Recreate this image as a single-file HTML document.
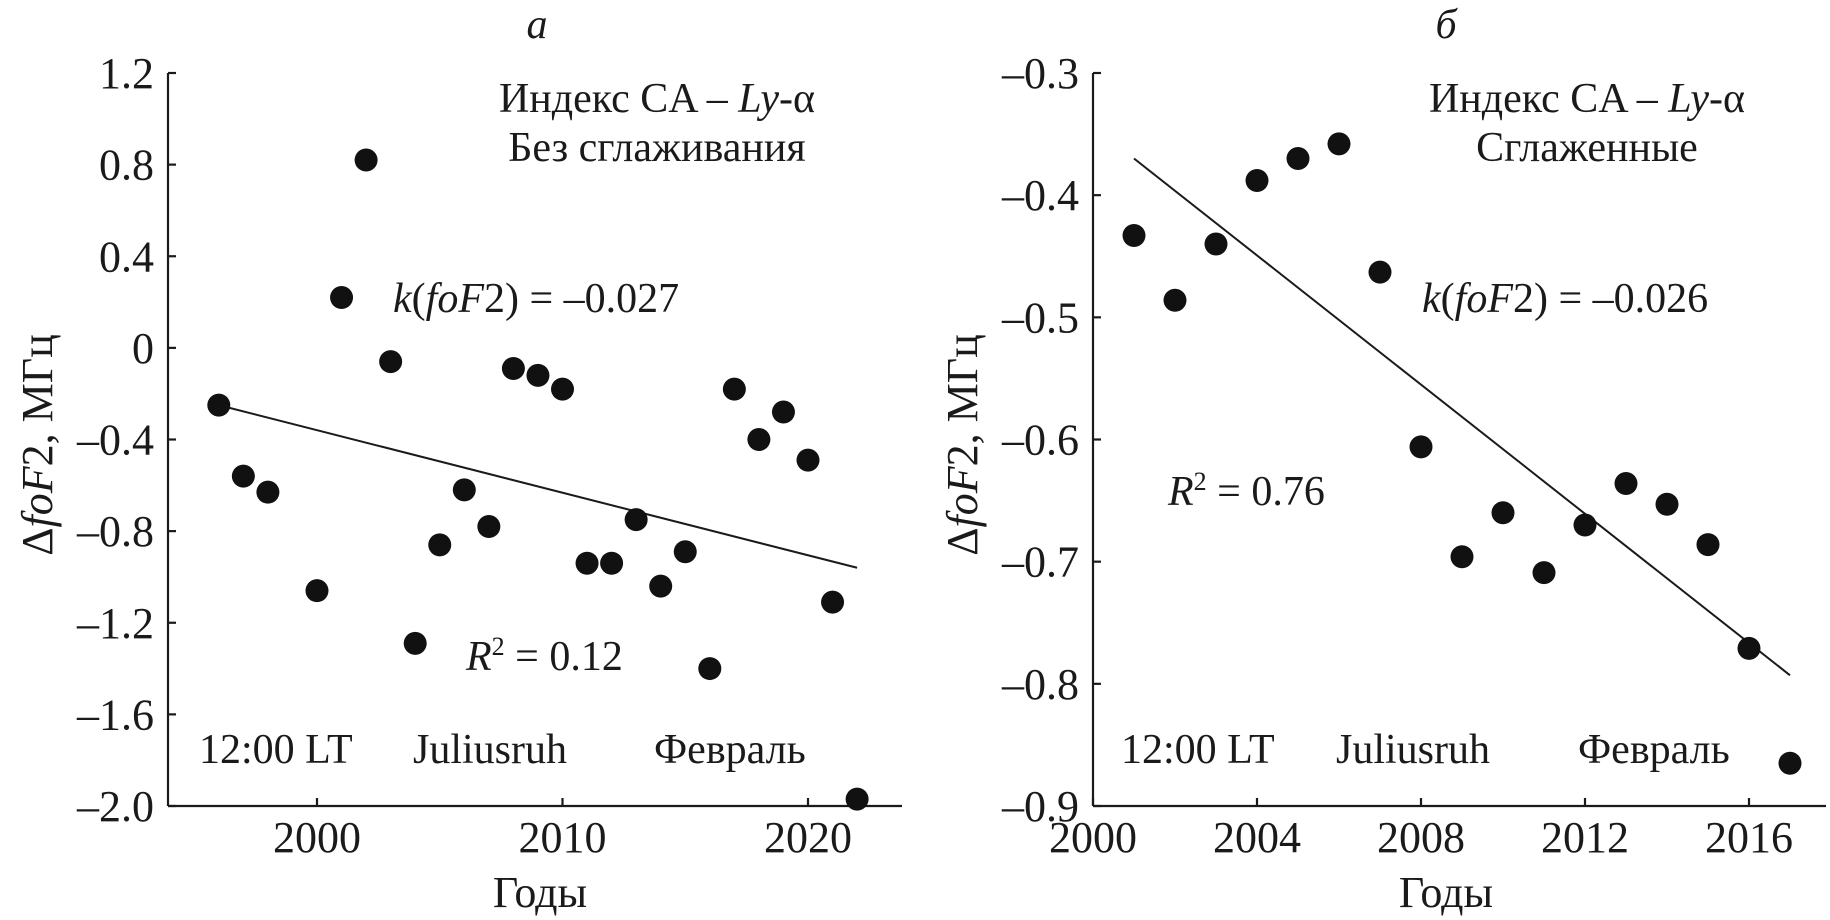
<!DOCTYPE html>
<html><head><meta charset="utf-8"><style>
html,body{margin:0;padding:0;background:#fff;}
svg{display:block;font-family:"Liberation Serif","DejaVu Serif",serif;fill:#1a1a1a;}
</style></head><body>
<svg id="svg" width="1830" height="920" viewBox="0 0 1830 920" xmlns="http://www.w3.org/2000/svg">
<g id="pa"></g>
<g id="pb"></g>
</svg>
<script>
const yearsA = [1996,1997,1998,2000,2001,2002,2003,2004,2005,2006,2007,2008,2009,2010,2011,2012,2013,2014,2015,2016,2017,2018,2019,2020,2021,2022];
const valuesA = [-0.25,-0.56,-0.63,-1.06,0.22,0.82,-0.06,-1.29,-0.86,-0.62,-0.78,-0.09,-0.12,-0.18,-0.94,-0.94,-0.75,-1.04,-0.89,-1.40,-0.18,-0.40,-0.28,-0.49,-1.11,-1.97];
const trendA = [[1996,-0.25],[2022,-0.96]];
const xTicksA = [2000,2010,2020];
const yTicksA = [1.2,0.8,0.4,0,-0.4,-0.8,-1.2,-1.6,-2.0];
const yLabelsA = ["1.2","0.8","0.4","0","\u20130.4","\u20130.8","\u20131.2","\u20131.6","\u20132.0"];

const yearsB = [2001,2002,2003,2004,2005,2006,2007,2008,2009,2010,2011,2012,2013,2014,2015,2016,2017];
const valuesB = [-0.433,-0.486,-0.44,-0.388,-0.37,-0.358,-0.463,-0.606,-0.696,-0.66,-0.709,-0.67,-0.636,-0.653,-0.686,-0.771,-0.865];
const trendB = [[2001,-0.37],[2017,-0.793]];
const xTicksB = [2000,2004,2008,2012,2016];
const yTicksB = [-0.3,-0.4,-0.5,-0.6,-0.7,-0.8,-0.9];
const yLabelsB = ["\u20130.3","\u20130.4","\u20130.5","\u20130.6","\u20130.7","\u20130.8","\u20130.9"];

const NS="http://www.w3.org/2000/svg";
function mk(parent,tag,attrs,text){const e=document.createElementNS(NS,tag);for(const k in attrs)e.setAttribute(k,attrs[k]);if(text!==undefined)e.innerHTML=text;parent.appendChild(e);return e;}

function panel(g,cfg){
  const x=v=>cfg.x0+(v-cfg.xMin)*(cfg.x1-cfg.x0)/(cfg.xMax-cfg.xMin);
  const y=v=>cfg.yTop+(cfg.yMaxV-v)*(cfg.yBot-cfg.yTop)/(cfg.yMaxV-cfg.yMinV);
  let e=mk(g,'line',{x1:cfg.x0,y1:cfg.yTop,x2:cfg.x0,y2:cfg.yBot,stroke:'#1a1a1a','stroke-width':2.2});
  
  
  e=mk(g,'line',{x1:cfg.x0,y1:cfg.yBot,x2:cfg.xEnd,y2:cfg.yBot,stroke:'#1a1a1a','stroke-width':2.2});
  
  
  cfg.yTicks.forEach((v,i)=>{
    const t=mk(g,'line',{x1:cfg.x0,y1:y(v),x2:cfg.x0+8,y2:y(v),stroke:'#1a1a1a','stroke-width':2.2});
    
    
    const l=mk(g,'text',{x:cfg.x0-14,y:y(v)+15,'text-anchor':'end','font-size':44},cfg.yLabels[i]);
    
    
  });
  cfg.xTicks.forEach(v=>{
    const t=mk(g,'line',{x1:x(v),y1:cfg.yBot,x2:x(v),y2:cfg.yBot-8,stroke:'#1a1a1a','stroke-width':2.2});
    
    
    const l=mk(g,'text',{x:x(v),y:852,'text-anchor':'middle','font-size':44},String(v));
    
    
  });
  e=mk(g,'line',{x1:x(cfg.trend[0][0]),y1:y(cfg.trend[0][1]),x2:x(cfg.trend[1][0]),y2:y(cfg.trend[1][1]),stroke:'#1a1a1a','stroke-width':2});
  
  
  cfg.years.forEach((yr,i)=>{
    const c=mk(g,'circle',{cx:x(yr),cy:y(cfg.values[i]),r:11.5,fill:'#111'});
    
    
  });
}

const ga=document.getElementById('pa'), gb=document.getElementById('pb');
panel(ga,{x0:168,x1:808,xMin:2020-(808-168)/24.55,xMax:2020,xEnd:902,yTop:73,yBot:806,yMaxV:1.2,yMinV:-2.0,
  yTicks:yTicksA,yLabels:yLabelsA,xTicks:xTicksA,years:yearsA,values:valuesA,trend:trendA});
panel(gb,{x0:1093,x1:1749,xMin:2000,xMax:2016,xEnd:1826,yTop:73,yBot:806,yMaxV:-0.3,yMinV:-0.9,
  yTicks:yTicksB,yLabels:yLabelsB,xTicks:xTicksB,years:yearsB,values:valuesB,trend:trendB});

function label(g,name,attrs,html){const t=mk(g,'text',Object.assign({'font-size':42},attrs),html);return t;}
label(ga,'panel-letter-a',{x:537,y:38,'text-anchor':'middle','font-style':'italic'},'а');
label(ga,'title-line-1',{x:657,y:112,'text-anchor':'middle'},'Индекс CA – <tspan font-style="italic">Ly</tspan>-α');
label(ga,'title-line-2',{x:657,y:161,'text-anchor':'middle'},'Без сглаживания');
label(ga,'slope-label',{x:393,y:312},'<tspan font-style="italic">k</tspan>(<tspan font-style="italic">foF</tspan>2) = –0.027');
label(ga,'r2-label',{x:466,y:670},'<tspan font-style="italic">R</tspan><tspan font-size="26" dy="-15">2</tspan><tspan dy="15"> = 0.12</tspan>');
label(ga,'time-label',{x:199,y:763},'12:00 LT');
label(ga,'station-label',{x:413,y:763},'Juliusruh');
label(ga,'month-label',{x:654,y:763},'Февраль');
label(ga,'x-axis-title',{x:540,y:907,'text-anchor':'middle','font-size':44},'Годы');
label(ga,'y-axis-title',{x:0,y:0,'text-anchor':'middle','font-size':44,transform:'translate(52,445) rotate(-90)'},'Δ<tspan font-style="italic">foF</tspan>2, МГц');

label(gb,'panel-letter-b',{x:1446,y:38,'text-anchor':'middle','font-style':'italic'},'б');
label(gb,'title-line-1',{x:1587,y:112,'text-anchor':'middle'},'Индекс CA – <tspan font-style="italic">Ly</tspan>-α');
label(gb,'title-line-2',{x:1587,y:161,'text-anchor':'middle'},'Сглаженные');
label(gb,'slope-label',{x:1422,y:312},'<tspan font-style="italic">k</tspan>(<tspan font-style="italic">foF</tspan>2) = –0.026');
label(gb,'r2-label',{x:1168,y:505},'<tspan font-style="italic">R</tspan><tspan font-size="26" dy="-15">2</tspan><tspan dy="15"> = 0.76</tspan>');
label(gb,'time-label',{x:1121,y:763},'12:00 LT');
label(gb,'station-label',{x:1336,y:763},'Juliusruh');
label(gb,'month-label',{x:1578,y:763},'Февраль');
label(gb,'x-axis-title',{x:1446,y:907,'text-anchor':'middle','font-size':44},'Годы');
label(gb,'y-axis-title',{x:0,y:0,'text-anchor':'middle','font-size':44,transform:'translate(977,445) rotate(-90)'},'Δ<tspan font-style="italic">foF</tspan>2, МГц');
</script>
</body></html>
